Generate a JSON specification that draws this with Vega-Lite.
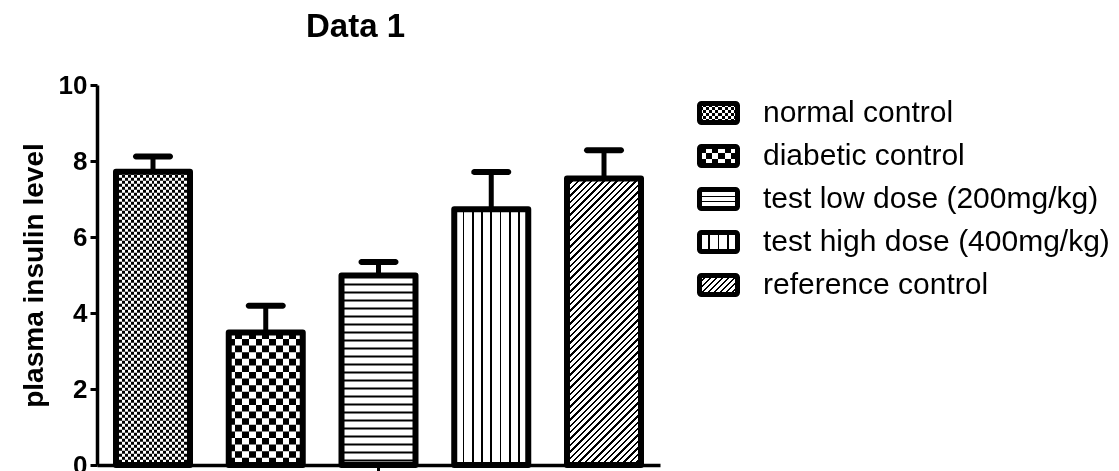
{
  "$schema": "https://vega.github.io/schema/vega-lite/v6.json",
  "width": 563,
  "height": 380,
  "autosize": {"type": "none"},
  "padding": {"left": 97, "top": 85, "right": 459, "bottom": 6},
  "background": "#ffffff",
  "config": {
    "view": {"stroke": null},
    "font": "Liberation Sans",
    "axisY": {
      "domainColor": "#000", "domainWidth": 3.5, "tickColor": "#000", "tickWidth": 3, "tickSize": 7,
      "labelFont": "Liberation Sans", "labelFontSize": 26, "labelFontWeight": "bold", "labelColor": "#000", "labelPadding": 3,
      "titleFont": "Liberation Sans", "titleFontSize": 28, "titleFontWeight": "bold", "titleColor": "#000", "titlePadding": 10,
      "grid": false
    },
    "axisX": {"domainColor": "#000", "domainWidth": 3.5, "tickColor": "#000", "tickWidth": 3, "tickSize": 8, "grid": false}
  },
  "title": {
    "text": "Data 1", "font": "Liberation Sans", "fontSize": 33, "fontWeight": "bold", "color": "#000",
    "anchor": "middle", "frame": "group", "dx": -23, "offset": 2, "baseline": "alphabetic"
  },
  "data": {
    "values": [
      {"group": "normal control", "mean": 7.72, "upper": 8.12},
      {"group": "diabetic control", "mean": 3.49, "upper": 4.19},
      {"group": "test low dose (200mg/kg)", "mean": 4.99, "upper": 5.34},
      {"group": "test high dose (400mg/kg)", "mean": 6.73, "upper": 7.71},
      {"group": "reference control", "mean": 7.54, "upper": 8.28}
    ]
  },
  "resolve": {"scale": {"x": "independent", "y": "independent"}},
  "layer": [
    {
      "encoding": {
        "x": {
          "field": "group", "type": "nominal",
          "scale": {
            "domain": ["normal control", "diabetic control", "test low dose (200mg/kg)", "test high dose (400mg/kg)", "reference control"],
            "paddingInner": 0.3437, "paddingOuter": 0.1685
          },
          "axis": {"title": null, "labels": false, "values": ["test low dose (200mg/kg)"]}
        }
      },
      "layer": [
        {
          "transform": [{"filter": "datum.group === 'normal control'"}],
          "mark": {"type": "bar", "strokeWidth": 0, "fill": {"gradient": "linear", "x1": 0, "y1": 0, "x2": 1, "y2": 0, "stops": [
            {"offset": 0, "color": "#000"}, {"offset": 0.04, "color": "#000"}, {"offset": 0.04, "color": "#fff"}, {"offset": 0.08, "color": "#fff"},
            {"offset": 0.08, "color": "#000"}, {"offset": 0.12, "color": "#000"}, {"offset": 0.12, "color": "#fff"}, {"offset": 0.16, "color": "#fff"},
            {"offset": 0.16, "color": "#000"}, {"offset": 0.2, "color": "#000"}, {"offset": 0.2, "color": "#fff"}, {"offset": 0.24, "color": "#fff"},
            {"offset": 0.24, "color": "#000"}, {"offset": 0.28, "color": "#000"}, {"offset": 0.28, "color": "#fff"}, {"offset": 0.32, "color": "#fff"},
            {"offset": 0.32, "color": "#000"}, {"offset": 0.36, "color": "#000"}, {"offset": 0.36, "color": "#fff"}, {"offset": 0.4, "color": "#fff"},
            {"offset": 0.4, "color": "#000"}, {"offset": 0.44, "color": "#000"}, {"offset": 0.44, "color": "#fff"}, {"offset": 0.48, "color": "#fff"},
            {"offset": 0.48, "color": "#000"}, {"offset": 0.52, "color": "#000"}, {"offset": 0.52, "color": "#fff"}, {"offset": 0.56, "color": "#fff"},
            {"offset": 0.56, "color": "#000"}, {"offset": 0.6, "color": "#000"}, {"offset": 0.6, "color": "#fff"}, {"offset": 0.64, "color": "#fff"},
            {"offset": 0.64, "color": "#000"}, {"offset": 0.68, "color": "#000"}, {"offset": 0.68, "color": "#fff"}, {"offset": 0.72, "color": "#fff"},
            {"offset": 0.72, "color": "#000"}, {"offset": 0.76, "color": "#000"}, {"offset": 0.76, "color": "#fff"}, {"offset": 0.8, "color": "#fff"},
            {"offset": 0.8, "color": "#000"}, {"offset": 0.84, "color": "#000"}, {"offset": 0.84, "color": "#fff"}, {"offset": 0.88, "color": "#fff"},
            {"offset": 0.88, "color": "#000"}, {"offset": 0.92, "color": "#000"}, {"offset": 0.92, "color": "#fff"}, {"offset": 0.96, "color": "#fff"},
            {"offset": 0.96, "color": "#000"}, {"offset": 1, "color": "#000"}
          ]}},
          "encoding": {
            "y": {"field": "mean", "type": "quantitative", "title": "plasma insulin level", "scale": {"domain": [0, 10]}, "axis": {"values": [0, 2, 4, 6, 8, 10]}}
          }
        },
        {
          "transform": [{"filter": "datum.group === 'diabetic control'"}],
          "mark": {"type": "bar", "strokeWidth": 0, "fill": {"gradient": "linear", "x1": 0, "y1": 0, "x2": 1, "y2": 0, "stops": [
            {"offset": 0, "color": "#000"}, {"offset": 0.0909, "color": "#000"}, {"offset": 0.0909, "color": "#fff"}, {"offset": 0.1818, "color": "#fff"},
            {"offset": 0.1818, "color": "#000"}, {"offset": 0.2727, "color": "#000"}, {"offset": 0.2727, "color": "#fff"}, {"offset": 0.3636, "color": "#fff"},
            {"offset": 0.3636, "color": "#000"}, {"offset": 0.4545, "color": "#000"}, {"offset": 0.4545, "color": "#fff"}, {"offset": 0.5455, "color": "#fff"},
            {"offset": 0.5455, "color": "#000"}, {"offset": 0.6364, "color": "#000"}, {"offset": 0.6364, "color": "#fff"}, {"offset": 0.7273, "color": "#fff"},
            {"offset": 0.7273, "color": "#000"}, {"offset": 0.8182, "color": "#000"}, {"offset": 0.8182, "color": "#fff"}, {"offset": 0.9091, "color": "#fff"},
            {"offset": 0.9091, "color": "#000"}, {"offset": 1, "color": "#000"}
          ]}},
          "encoding": {"y": {"field": "mean", "type": "quantitative", "title": "plasma insulin level"}}
        },
        {
          "transform": [{"filter": "datum.group === 'test low dose (200mg/kg)'"}],
          "mark": {"type": "bar", "strokeWidth": 0, "fill": "#fff"},
          "encoding": {"y": {"field": "mean", "type": "quantitative", "title": "plasma insulin level"}}
        },
        {
          "transform": [{"filter": "datum.group === 'test high dose (400mg/kg)'"}],
          "mark": {"type": "bar", "strokeWidth": 0, "fill": {"gradient": "linear", "x1": 0, "y1": 0, "x2": 1, "y2": 0, "stops": [
            {"offset": 0, "color": "#fff"}, {"offset": 0.112, "color": "#fff"}, {"offset": 0.112, "color": "#000"}, {"offset": 0.138, "color": "#000"},
            {"offset": 0.138, "color": "#fff"}, {"offset": 0.237, "color": "#fff"}, {"offset": 0.237, "color": "#000"}, {"offset": 0.263, "color": "#000"},
            {"offset": 0.263, "color": "#fff"}, {"offset": 0.362, "color": "#fff"}, {"offset": 0.362, "color": "#000"}, {"offset": 0.388, "color": "#000"},
            {"offset": 0.388, "color": "#fff"}, {"offset": 0.487, "color": "#fff"}, {"offset": 0.487, "color": "#000"}, {"offset": 0.513, "color": "#000"},
            {"offset": 0.513, "color": "#fff"}, {"offset": 0.612, "color": "#fff"}, {"offset": 0.612, "color": "#000"}, {"offset": 0.638, "color": "#000"},
            {"offset": 0.638, "color": "#fff"}, {"offset": 0.737, "color": "#fff"}, {"offset": 0.737, "color": "#000"}, {"offset": 0.763, "color": "#000"},
            {"offset": 0.763, "color": "#fff"}, {"offset": 0.862, "color": "#fff"}, {"offset": 0.862, "color": "#000"}, {"offset": 0.888, "color": "#000"},
            {"offset": 0.888, "color": "#fff"}, {"offset": 1, "color": "#fff"}
          ]}},
          "encoding": {"y": {"field": "mean", "type": "quantitative", "title": "plasma insulin level"}}
        },
        {
          "transform": [{"filter": "datum.group === 'reference control'"}],
          "mark": {"type": "bar", "strokeWidth": 0, "fill": {"gradient": "linear", "x1": 0, "y1": 0, "x2": 0.338, "y2": 1.3088, "stops": [
            {"offset": 0, "color": "#000"}, {"offset": 0.006, "color": "#000"}, {"offset": 0.006, "color": "#fff"}, {"offset": 0.016, "color": "#fff"},
            {"offset": 0.016, "color": "#000"}, {"offset": 0.022, "color": "#000"}, {"offset": 0.022, "color": "#fff"}, {"offset": 0.032, "color": "#fff"},
            {"offset": 0.032, "color": "#000"}, {"offset": 0.038, "color": "#000"}, {"offset": 0.038, "color": "#fff"}, {"offset": 0.048, "color": "#fff"},
            {"offset": 0.048, "color": "#000"}, {"offset": 0.054, "color": "#000"}, {"offset": 0.054, "color": "#fff"}, {"offset": 0.064, "color": "#fff"},
            {"offset": 0.064, "color": "#000"}, {"offset": 0.07, "color": "#000"}, {"offset": 0.07, "color": "#fff"}, {"offset": 0.08, "color": "#fff"},
            {"offset": 0.08, "color": "#000"}, {"offset": 0.086, "color": "#000"}, {"offset": 0.086, "color": "#fff"}, {"offset": 0.096, "color": "#fff"},
            {"offset": 0.096, "color": "#000"}, {"offset": 0.102, "color": "#000"}, {"offset": 0.102, "color": "#fff"}, {"offset": 0.112, "color": "#fff"},
            {"offset": 0.112, "color": "#000"}, {"offset": 0.118, "color": "#000"}, {"offset": 0.118, "color": "#fff"}, {"offset": 0.128, "color": "#fff"},
            {"offset": 0.128, "color": "#000"}, {"offset": 0.134, "color": "#000"}, {"offset": 0.134, "color": "#fff"}, {"offset": 0.144, "color": "#fff"},
            {"offset": 0.144, "color": "#000"}, {"offset": 0.15, "color": "#000"}, {"offset": 0.15, "color": "#fff"}, {"offset": 0.16, "color": "#fff"},
            {"offset": 0.16, "color": "#000"}, {"offset": 0.166, "color": "#000"}, {"offset": 0.166, "color": "#fff"}, {"offset": 0.176, "color": "#fff"},
            {"offset": 0.176, "color": "#000"}, {"offset": 0.182, "color": "#000"}, {"offset": 0.182, "color": "#fff"}, {"offset": 0.192, "color": "#fff"},
            {"offset": 0.192, "color": "#000"}, {"offset": 0.198, "color": "#000"}, {"offset": 0.198, "color": "#fff"}, {"offset": 0.208, "color": "#fff"},
            {"offset": 0.208, "color": "#000"}, {"offset": 0.214, "color": "#000"}, {"offset": 0.214, "color": "#fff"}, {"offset": 0.224, "color": "#fff"},
            {"offset": 0.224, "color": "#000"}, {"offset": 0.23, "color": "#000"}, {"offset": 0.23, "color": "#fff"}, {"offset": 0.24, "color": "#fff"},
            {"offset": 0.24, "color": "#000"}, {"offset": 0.246, "color": "#000"}, {"offset": 0.246, "color": "#fff"}, {"offset": 0.256, "color": "#fff"},
            {"offset": 0.256, "color": "#000"}, {"offset": 0.262, "color": "#000"}, {"offset": 0.262, "color": "#fff"}, {"offset": 0.272, "color": "#fff"},
            {"offset": 0.272, "color": "#000"}, {"offset": 0.278, "color": "#000"}, {"offset": 0.278, "color": "#fff"}, {"offset": 0.288, "color": "#fff"},
            {"offset": 0.288, "color": "#000"}, {"offset": 0.294, "color": "#000"}, {"offset": 0.294, "color": "#fff"}, {"offset": 0.304, "color": "#fff"},
            {"offset": 0.304, "color": "#000"}, {"offset": 0.31, "color": "#000"}, {"offset": 0.31, "color": "#fff"}, {"offset": 0.32, "color": "#fff"},
            {"offset": 0.32, "color": "#000"}, {"offset": 0.326, "color": "#000"}, {"offset": 0.326, "color": "#fff"}, {"offset": 0.336, "color": "#fff"},
            {"offset": 0.336, "color": "#000"}, {"offset": 0.342, "color": "#000"}, {"offset": 0.342, "color": "#fff"}, {"offset": 0.352, "color": "#fff"},
            {"offset": 0.352, "color": "#000"}, {"offset": 0.358, "color": "#000"}, {"offset": 0.358, "color": "#fff"}, {"offset": 0.368, "color": "#fff"},
            {"offset": 0.368, "color": "#000"}, {"offset": 0.374, "color": "#000"}, {"offset": 0.374, "color": "#fff"}, {"offset": 0.384, "color": "#fff"},
            {"offset": 0.384, "color": "#000"}, {"offset": 0.39, "color": "#000"}, {"offset": 0.39, "color": "#fff"}, {"offset": 0.4, "color": "#fff"},
            {"offset": 0.4, "color": "#000"}, {"offset": 0.406, "color": "#000"}, {"offset": 0.406, "color": "#fff"}, {"offset": 0.416, "color": "#fff"},
            {"offset": 0.416, "color": "#000"}, {"offset": 0.422, "color": "#000"}, {"offset": 0.422, "color": "#fff"}, {"offset": 0.432, "color": "#fff"},
            {"offset": 0.432, "color": "#000"}, {"offset": 0.438, "color": "#000"}, {"offset": 0.438, "color": "#fff"}, {"offset": 0.448, "color": "#fff"},
            {"offset": 0.448, "color": "#000"}, {"offset": 0.454, "color": "#000"}, {"offset": 0.454, "color": "#fff"}, {"offset": 0.464, "color": "#fff"},
            {"offset": 0.464, "color": "#000"}, {"offset": 0.47, "color": "#000"}, {"offset": 0.47, "color": "#fff"}, {"offset": 0.48, "color": "#fff"},
            {"offset": 0.48, "color": "#000"}, {"offset": 0.486, "color": "#000"}, {"offset": 0.486, "color": "#fff"}, {"offset": 0.496, "color": "#fff"},
            {"offset": 0.496, "color": "#000"}, {"offset": 0.502, "color": "#000"}, {"offset": 0.502, "color": "#fff"}, {"offset": 0.512, "color": "#fff"},
            {"offset": 0.512, "color": "#000"}, {"offset": 0.518, "color": "#000"}, {"offset": 0.518, "color": "#fff"}, {"offset": 0.528, "color": "#fff"},
            {"offset": 0.528, "color": "#000"}, {"offset": 0.534, "color": "#000"}, {"offset": 0.534, "color": "#fff"}, {"offset": 0.544, "color": "#fff"},
            {"offset": 0.544, "color": "#000"}, {"offset": 0.55, "color": "#000"}, {"offset": 0.55, "color": "#fff"}, {"offset": 0.56, "color": "#fff"},
            {"offset": 0.56, "color": "#000"}, {"offset": 0.566, "color": "#000"}, {"offset": 0.566, "color": "#fff"}, {"offset": 0.576, "color": "#fff"},
            {"offset": 0.576, "color": "#000"}, {"offset": 0.582, "color": "#000"}, {"offset": 0.582, "color": "#fff"}, {"offset": 0.592, "color": "#fff"},
            {"offset": 0.592, "color": "#000"}, {"offset": 0.598, "color": "#000"}, {"offset": 0.598, "color": "#fff"}, {"offset": 0.608, "color": "#fff"},
            {"offset": 0.608, "color": "#000"}, {"offset": 0.614, "color": "#000"}, {"offset": 0.614, "color": "#fff"}, {"offset": 0.624, "color": "#fff"},
            {"offset": 0.624, "color": "#000"}, {"offset": 0.63, "color": "#000"}, {"offset": 0.63, "color": "#fff"}, {"offset": 0.64, "color": "#fff"},
            {"offset": 0.64, "color": "#000"}, {"offset": 0.646, "color": "#000"}, {"offset": 0.646, "color": "#fff"}, {"offset": 0.656, "color": "#fff"},
            {"offset": 0.656, "color": "#000"}, {"offset": 0.662, "color": "#000"}, {"offset": 0.662, "color": "#fff"}, {"offset": 0.672, "color": "#fff"},
            {"offset": 0.672, "color": "#000"}, {"offset": 0.678, "color": "#000"}, {"offset": 0.678, "color": "#fff"}, {"offset": 0.688, "color": "#fff"},
            {"offset": 0.688, "color": "#000"}, {"offset": 0.694, "color": "#000"}, {"offset": 0.694, "color": "#fff"}, {"offset": 0.704, "color": "#fff"},
            {"offset": 0.704, "color": "#000"}, {"offset": 0.71, "color": "#000"}, {"offset": 0.71, "color": "#fff"}, {"offset": 0.72, "color": "#fff"},
            {"offset": 0.72, "color": "#000"}, {"offset": 0.726, "color": "#000"}, {"offset": 0.726, "color": "#fff"}, {"offset": 0.736, "color": "#fff"},
            {"offset": 0.736, "color": "#000"}, {"offset": 0.742, "color": "#000"}, {"offset": 0.742, "color": "#fff"}, {"offset": 0.752, "color": "#fff"},
            {"offset": 0.752, "color": "#000"}, {"offset": 0.758, "color": "#000"}, {"offset": 0.758, "color": "#fff"}, {"offset": 0.768, "color": "#fff"},
            {"offset": 0.768, "color": "#000"}, {"offset": 0.774, "color": "#000"}, {"offset": 0.774, "color": "#fff"}, {"offset": 0.784, "color": "#fff"},
            {"offset": 0.784, "color": "#000"}, {"offset": 0.79, "color": "#000"}, {"offset": 0.79, "color": "#fff"}, {"offset": 0.8, "color": "#fff"},
            {"offset": 0.8, "color": "#000"}, {"offset": 0.806, "color": "#000"}, {"offset": 0.806, "color": "#fff"}, {"offset": 0.816, "color": "#fff"},
            {"offset": 0.816, "color": "#000"}, {"offset": 0.822, "color": "#000"}, {"offset": 0.822, "color": "#fff"}, {"offset": 0.832, "color": "#fff"},
            {"offset": 0.832, "color": "#000"}, {"offset": 0.838, "color": "#000"}, {"offset": 0.838, "color": "#fff"}, {"offset": 0.848, "color": "#fff"},
            {"offset": 0.848, "color": "#000"}, {"offset": 0.854, "color": "#000"}, {"offset": 0.854, "color": "#fff"}, {"offset": 0.864, "color": "#fff"},
            {"offset": 0.864, "color": "#000"}, {"offset": 0.87, "color": "#000"}, {"offset": 0.87, "color": "#fff"}, {"offset": 0.88, "color": "#fff"},
            {"offset": 0.88, "color": "#000"}, {"offset": 0.886, "color": "#000"}, {"offset": 0.886, "color": "#fff"}, {"offset": 0.896, "color": "#fff"},
            {"offset": 0.896, "color": "#000"}, {"offset": 0.902, "color": "#000"}, {"offset": 0.902, "color": "#fff"}, {"offset": 1, "color": "#fff"}
          ]}},
          "encoding": {"y": {"field": "mean", "type": "quantitative", "title": "plasma insulin level"}}
        },
        {
          "transform": [{"filter": "datum.group === 'normal control'"}],
          "mark": {"type": "rule", "stroke": "#fff", "strokeWidth": 74, "strokeDash": [3, 3], "blend": "difference"},
          "encoding": {"y": {"field": "mean", "type": "quantitative", "title": "plasma insulin level"}, "y2": {"datum": 0}}
        },
        {
          "transform": [{"filter": "datum.group === 'diabetic control'"}],
          "mark": {"type": "rule", "stroke": "#fff", "strokeWidth": 74, "strokeDash": [6.6, 6.6], "blend": "difference"},
          "encoding": {"y": {"field": "mean", "type": "quantitative", "title": "plasma insulin level"}, "y2": {"datum": 0}}
        },
        {
          "transform": [{"filter": "datum.group === 'test low dose (200mg/kg)'"}],
          "mark": {"type": "rule", "stroke": "#000", "strokeWidth": 74, "strokeDash": [2, 6]},
          "encoding": {"y": {"field": "mean", "type": "quantitative", "title": "plasma insulin level"}, "y2": {"datum": 0}}
        },
        {
          "mark": {"type": "bar", "filled": false, "color": "#000", "strokeWidth": 6, "strokeJoin": "round"},
          "encoding": {"y": {"field": "mean", "type": "quantitative", "title": "plasma insulin level"}}
        },
        {
          "mark": {"type": "rule", "color": "#000", "strokeWidth": 5},
          "encoding": {
            "y": {"field": "mean", "type": "quantitative", "title": "plasma insulin level"},
            "y2": {"field": "upper"}
          }
        },
        {
          "mark": {"type": "tick", "color": "#000", "size": 40, "thickness": 6, "cornerRadius": 3, "opacity": 1},
          "encoding": {"y": {"field": "upper", "type": "quantitative", "title": "plasma insulin level"}}
        }
      ]
    },
    {
      "encoding": {
        "y": {
          "field": "group", "type": "nominal",
          "scale": {
            "type": "point",
            "domain": ["normal control", "diabetic control", "test low dose (200mg/kg)", "test high dose (400mg/kg)", "reference control"],
            "range": [28, 200], "padding": 0
          },
          "axis": null
        }
      },
      "layer": [
        {
          "transform": [{"filter": "datum.group === 'normal control'"}],
          "mark": {"type": "bar", "orient": "horizontal", "size": 19, "strokeWidth": 0, "fill": {"gradient": "linear", "x1": 0, "y1": 0, "x2": 1, "y2": 0, "stops": [
            {"offset": 0, "color": "#000"}, {"offset": 0.0833, "color": "#000"}, {"offset": 0.0833, "color": "#fff"}, {"offset": 0.1667, "color": "#fff"},
            {"offset": 0.1667, "color": "#000"}, {"offset": 0.25, "color": "#000"}, {"offset": 0.25, "color": "#fff"}, {"offset": 0.3333, "color": "#fff"},
            {"offset": 0.3333, "color": "#000"}, {"offset": 0.4167, "color": "#000"}, {"offset": 0.4167, "color": "#fff"}, {"offset": 0.5, "color": "#fff"},
            {"offset": 0.5, "color": "#000"}, {"offset": 0.5833, "color": "#000"}, {"offset": 0.5833, "color": "#fff"}, {"offset": 0.6667, "color": "#fff"},
            {"offset": 0.6667, "color": "#000"}, {"offset": 0.75, "color": "#000"}, {"offset": 0.75, "color": "#fff"}, {"offset": 0.8333, "color": "#fff"},
            {"offset": 0.8333, "color": "#000"}, {"offset": 0.9167, "color": "#000"}, {"offset": 0.9167, "color": "#fff"}, {"offset": 1, "color": "#fff"}
          ]}},
          "encoding": {
            "x": {"datum": 0, "type": "quantitative", "scale": {"domain": [0, 1], "range": [602.5, 640.5], "nice": false, "zero": false}, "axis": null},
            "x2": {"datum": 1}
          }
        },
        {
          "transform": [{"filter": "datum.group === 'normal control'"}],
          "mark": {"type": "bar", "orient": "horizontal", "size": 19, "strokeWidth": 0, "blend": "difference", "fill": {"gradient": "linear", "x1": 0, "y1": 0, "x2": 0, "y2": 1, "stops": [
            {"offset": 0, "color": "#fff"}, {"offset": 0.1667, "color": "#fff"}, {"offset": 0.1667, "color": "#000"}, {"offset": 0.3333, "color": "#000"},
            {"offset": 0.3333, "color": "#fff"}, {"offset": 0.5, "color": "#fff"}, {"offset": 0.5, "color": "#000"}, {"offset": 0.6667, "color": "#000"},
            {"offset": 0.6667, "color": "#fff"}, {"offset": 0.8333, "color": "#fff"}, {"offset": 0.8333, "color": "#000"}, {"offset": 1, "color": "#000"}
          ]}},
          "encoding": {"x": {"datum": 0, "type": "quantitative"}, "x2": {"datum": 1}}
        },
        {
          "transform": [{"filter": "datum.group === 'diabetic control'"}],
          "mark": {"type": "bar", "orient": "horizontal", "size": 19, "strokeWidth": 0, "fill": {"gradient": "linear", "x1": 0, "y1": 0, "x2": 1, "y2": 0, "stops": [
            {"offset": 0, "color": "#000"}, {"offset": 0.1667, "color": "#000"}, {"offset": 0.1667, "color": "#fff"}, {"offset": 0.3333, "color": "#fff"},
            {"offset": 0.3333, "color": "#000"}, {"offset": 0.5, "color": "#000"}, {"offset": 0.5, "color": "#fff"}, {"offset": 0.6667, "color": "#fff"},
            {"offset": 0.6667, "color": "#000"}, {"offset": 0.8333, "color": "#000"}, {"offset": 0.8333, "color": "#fff"}, {"offset": 1, "color": "#fff"}
          ]}},
          "encoding": {"x": {"datum": 0, "type": "quantitative"}, "x2": {"datum": 1}}
        },
        {
          "transform": [{"filter": "datum.group === 'diabetic control'"}],
          "mark": {"type": "bar", "orient": "horizontal", "size": 19, "strokeWidth": 0, "blend": "difference", "fill": {"gradient": "linear", "x1": 0, "y1": 0, "x2": 0, "y2": 1, "stops": [
            {"offset": 0, "color": "#000"}, {"offset": 0.3333, "color": "#000"}, {"offset": 0.3333, "color": "#fff"}, {"offset": 0.6667, "color": "#fff"},
            {"offset": 0.6667, "color": "#000"}, {"offset": 1, "color": "#000"}
          ]}},
          "encoding": {"x": {"datum": 0, "type": "quantitative"}, "x2": {"datum": 1}}
        },
        {
          "transform": [{"filter": "datum.group === 'test low dose (200mg/kg)'"}],
          "mark": {"type": "bar", "orient": "horizontal", "size": 19, "strokeWidth": 0, "fill": {"gradient": "linear", "x1": 0, "y1": 0, "x2": 0, "y2": 1, "stops": [
            {"offset": 0, "color": "#fff"}, {"offset": 0.33, "color": "#fff"}, {"offset": 0.33, "color": "#000"}, {"offset": 0.42, "color": "#000"},
            {"offset": 0.42, "color": "#fff"}, {"offset": 0.58, "color": "#fff"}, {"offset": 0.58, "color": "#000"}, {"offset": 0.67, "color": "#000"},
            {"offset": 0.67, "color": "#fff"}, {"offset": 1, "color": "#fff"}
          ]}},
          "encoding": {"x": {"datum": 0, "type": "quantitative"}, "x2": {"datum": 1}}
        },
        {
          "transform": [{"filter": "datum.group === 'test high dose (400mg/kg)'"}],
          "mark": {"type": "bar", "orient": "horizontal", "size": 19, "strokeWidth": 0, "fill": {"gradient": "linear", "x1": 0, "y1": 0, "x2": 1, "y2": 0, "stops": [
            {"offset": 0, "color": "#fff"}, {"offset": 0.225, "color": "#fff"}, {"offset": 0.225, "color": "#000"}, {"offset": 0.275, "color": "#000"},
            {"offset": 0.275, "color": "#fff"}, {"offset": 0.475, "color": "#fff"}, {"offset": 0.475, "color": "#000"}, {"offset": 0.525, "color": "#000"},
            {"offset": 0.525, "color": "#fff"}, {"offset": 0.725, "color": "#fff"}, {"offset": 0.725, "color": "#000"}, {"offset": 0.775, "color": "#000"},
            {"offset": 0.775, "color": "#fff"}, {"offset": 1, "color": "#fff"}
          ]}},
          "encoding": {"x": {"datum": 0, "type": "quantitative"}, "x2": {"datum": 1}}
        },
        {
          "transform": [{"filter": "datum.group === 'reference control'"}],
          "mark": {"type": "bar", "orient": "horizontal", "size": 19, "strokeWidth": 0, "fill": {"gradient": "linear", "x1": 0, "y1": 0, "x2": 1.2632, "y2": 0.6316, "stops": [
            {"offset": 0, "color": "#000"}, {"offset": 0.04, "color": "#000"}, {"offset": 0.04, "color": "#fff"}, {"offset": 0.1, "color": "#fff"},
            {"offset": 0.1, "color": "#000"}, {"offset": 0.14, "color": "#000"}, {"offset": 0.14, "color": "#fff"}, {"offset": 0.2, "color": "#fff"},
            {"offset": 0.2, "color": "#000"}, {"offset": 0.24, "color": "#000"}, {"offset": 0.24, "color": "#fff"}, {"offset": 0.3, "color": "#fff"},
            {"offset": 0.3, "color": "#000"}, {"offset": 0.34, "color": "#000"}, {"offset": 0.34, "color": "#fff"}, {"offset": 0.4, "color": "#fff"},
            {"offset": 0.4, "color": "#000"}, {"offset": 0.44, "color": "#000"}, {"offset": 0.44, "color": "#fff"}, {"offset": 0.5, "color": "#fff"},
            {"offset": 0.5, "color": "#000"}, {"offset": 0.54, "color": "#000"}, {"offset": 0.54, "color": "#fff"}, {"offset": 0.6, "color": "#fff"},
            {"offset": 0.6, "color": "#000"}, {"offset": 0.64, "color": "#000"}, {"offset": 0.64, "color": "#fff"}, {"offset": 0.7, "color": "#fff"},
            {"offset": 0.7, "color": "#000"}, {"offset": 0.74, "color": "#000"}, {"offset": 0.74, "color": "#fff"}, {"offset": 0.8, "color": "#fff"},
            {"offset": 0.8, "color": "#000"}, {"offset": 0.84, "color": "#000"}, {"offset": 0.84, "color": "#fff"}, {"offset": 0.9, "color": "#fff"},
            {"offset": 0.9, "color": "#000"}, {"offset": 0.94, "color": "#000"}, {"offset": 0.94, "color": "#fff"}, {"offset": 1, "color": "#fff"}
          ]}},
          "encoding": {"x": {"datum": 0, "type": "quantitative"}, "x2": {"datum": 1}}
        },
        {
          "mark": {"type": "bar", "orient": "horizontal", "size": 19, "filled": false, "color": "#000", "strokeWidth": 5, "cornerRadius": 2},
          "encoding": {"x": {"datum": 0, "type": "quantitative"}, "x2": {"datum": 1}}
        },
        {
          "mark": {"type": "text", "align": "left", "baseline": "middle", "font": "Liberation Sans", "fontSize": 30, "color": "#000"},
          "encoding": {"x": {"datum": 1.671, "type": "quantitative"}, "text": {"field": "group"}}
        }
      ]
    }
  ]
}
